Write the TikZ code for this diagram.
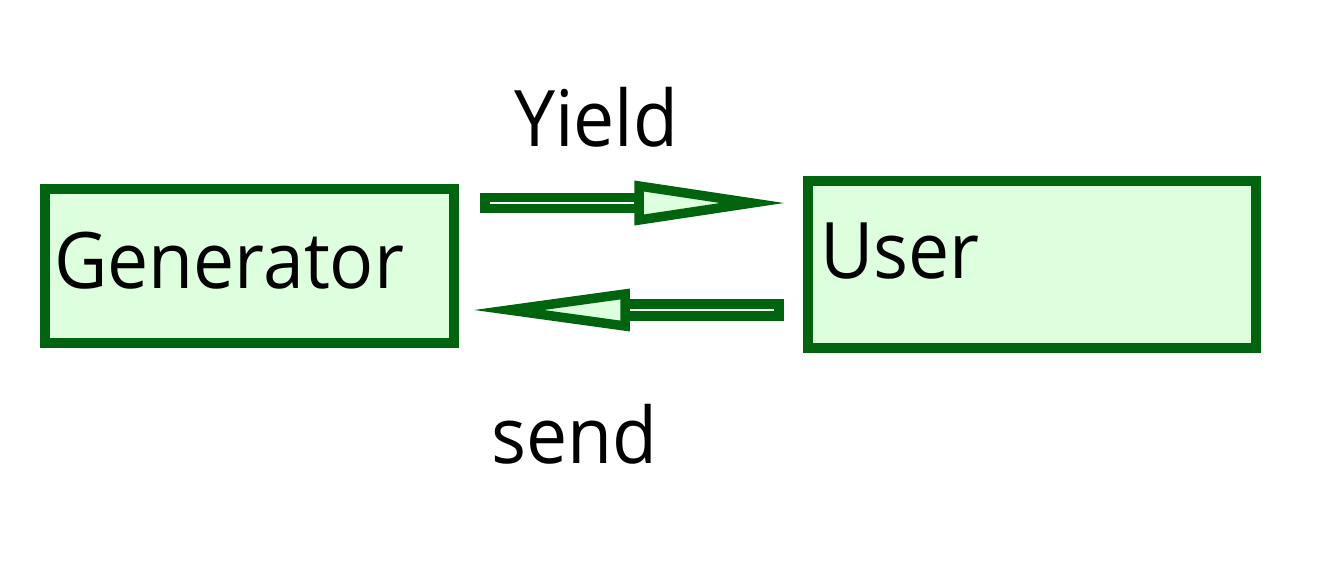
\documentclass[tikz,border=0pt]{standalone}
\usepackage{fontspec}
\setmainfont[FakeStretch=0.94]{Open Sans}
\usetikzlibrary{calc}
\definecolor{dkgreen}{RGB}{0,100,15}
\definecolor{ltgreen}{RGB}{221,255,221}
\tikzset{
  box/.style={draw=dkgreen, fill=ltgreen, line width=10pt, inner sep=0pt, outer sep=0pt},
  lbl/.style={font=\fontsize{78}{90}\selectfont, inner sep=0pt, text=black},
  shaft/.style={draw=dkgreen, fill=white, line width=9.5pt},
  head/.style={draw=dkgreen, fill=ltgreen, line width=9.5pt},
}
\begin{document}
\begin{tikzpicture}[x=1pt,y=-1pt]
\useasboundingbox (0,0) rectangle (1319,574);
\node[box, minimum width=409pt, minimum height=154pt] (gen) at (249.5,266) {};
\node[box, minimum width=448pt, minimum height=167pt] (user) at (1032,264.5) {};
\node[lbl, anchor=base west] (gentext) at (54,288) {Generator};
\node[lbl, anchor=base west] (usertext) at (820,278) {User};
\node[lbl, anchor=base west] (yield) at (514,146) {Yield};
\node[lbl, anchor=base west] (send) at (491,463) {send};
% top arrow: Generator -> User
\coordinate (a1s) at ($(gen.east)+(31,-63)$);
\coordinate (a1t) at ($(user.west)+(-56,-61.5)$);
\draw[shaft] ($(a1s)+(0,-5.5)$) rectangle ($(a1s)+(154,5.5)$);
\draw[head] ($(a1s)+(154,-17)$) -- (a1t) -- ($(a1s)+(154,17)$) -- cycle;
% bottom arrow: User -> Generator
\coordinate (a2s) at ($(user.west)+(-29,45.5)$);
\coordinate (a2t) at ($(gen.east)+(55,44)$);
\draw[shaft] ($(a2s)+(0,-6)$) rectangle ($(a2s)+(-154,6)$);
\draw[head] ($(a2s)+(-154,-16)$) -- (a2t) -- ($(a2s)+(-154,16)$) -- cycle;
\end{tikzpicture}
\end{document}
